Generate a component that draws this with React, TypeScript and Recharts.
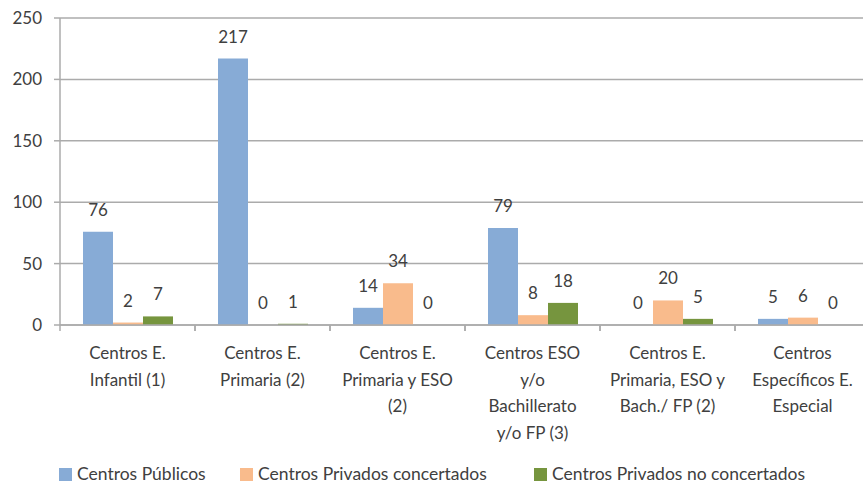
import React from 'react';
import {
  BarChart,
  Bar,
  XAxis,
  YAxis,
  CartesianGrid,
  Legend,
  LabelList,
} from 'recharts';

const categories = [
  'Centros E. Infantil (1)',
  'Centros E. Primaria (2)',
  'Centros E. Primaria y ESO (2)',
  'Centros ESO y/o Bachillerato y/o FP (3)',
  'Centros E. Primaria, ESO y Bach./ FP (2)',
  'Centros Específicos E. Especial',
];

// how each category label wraps under the axis
const categoryLines = [
  ['Centros E.', 'Infantil (1)'],
  ['Centros E.', 'Primaria (2)'],
  ['Centros E.', 'Primaria y ESO', '(2)'],
  ['Centros ESO', 'y/o', 'Bachillerato', 'y/o FP (3)'],
  ['Centros E.', 'Primaria, ESO y', 'Bach./ FP (2)'],
  ['Centros', 'Específicos E.', 'Especial'],
];

const publicos = [76, 217, 14, 79, 0, 5];
const concertados = [2, 0, 34, 8, 20, 6];
const noConcertados = [7, 1, 0, 18, 5, 0];

const yTicks = [0, 50, 100, 150, 200, 250];

const series = [
  { key: 'publicos', name: 'Centros Públicos', color: '#87ABD6' },
  { key: 'concertados', name: 'Centros Privados concertados', color: '#F9BB8C' },
  { key: 'noConcertados', name: 'Centros Privados no concertados', color: '#76953E' },
];

const data = categories.map((name, i) => ({
  name,
  publicos: publicos[i],
  concertados: concertados[i],
  noConcertados: noConcertados[i],
}));

const FONT = 'Lato, "Open Sans", sans-serif';
const TEXT = '#404040';
const GRID = '#ABABAB';
const BAND = 135;

const CategoryTick = (props: any) => {
  const { x, y, index } = props;
  const lines = categoryLines[index] || [];
  return (
    <g>
      <line x1={x - BAND / 2} x2={x - BAND / 2} y1={y} y2={y + 6} stroke={GRID} strokeWidth={1.5} />
      <line x1={x + BAND / 2} x2={x + BAND / 2} y1={y} y2={y + 6} stroke={GRID} strokeWidth={1.5} />
      <text x={x} y={y + 34} textAnchor="middle" fill={TEXT} fontSize={17} fontFamily={FONT}>
        {lines.map((l, i) => (
          <tspan key={i} x={x} dy={i === 0 ? 0 : 26.5}>
            {l}
          </tspan>
        ))}
      </text>
    </g>
  );
};

const legendLeft = [59, 240, 534];

const LegendContent = () => (
  <div style={{ position: 'relative', height: 20, lineHeight: '20px', fontFamily: FONT, fontSize: 17.5, color: TEXT }}>
    {series.map((s, i) => (
      <div
        key={s.key}
        style={{ position: 'absolute', left: legendLeft[i], top: 0, height: 20, display: 'flex', alignItems: 'center', whiteSpace: 'nowrap' }}
      >
        <span style={{ display: 'inline-block', width: 13, height: 13, background: s.color, marginRight: 5 }} />
        <span>{s.name}</span>
      </div>
    ))}
  </div>
);

const App: React.FC = () => {
  return (
    <div style={{ position: 'fixed', left: 0, top: 0, width: 863, height: 484, overflow: 'hidden', background: '#fff' }}>
      <BarChart
        width={880}
        height={484}
        data={data}
        margin={{ top: 18, right: 10, left: 0, bottom: 29 }}
        barGap={0}
      >
        <CartesianGrid vertical={false} stroke={GRID} strokeWidth={1.5} />
        <XAxis
          dataKey="name"
          height={130}
          interval={0}
          tickSize={0}
          tickMargin={0}
          tickLine={false}
          axisLine={{ stroke: GRID, strokeWidth: 1.5 }}
          tick={<CategoryTick />}
        />
        <YAxis
          width={60}
          domain={[0, 250]}
          ticks={yTicks}
          interval={0}
          tickSize={6}
          tickMargin={12}
          tickLine={{ stroke: GRID, strokeWidth: 1.5 }}
          axisLine={{ stroke: GRID, strokeWidth: 1.5 }}
          tick={{ fill: TEXT, fontSize: 17, fontFamily: FONT }}
        />
        <Legend
          layout="horizontal"
          verticalAlign="middle"
          align="center"
          wrapperStyle={{ top: 464, left: 0, width: 863 }}
          content={<LegendContent />}
        />
        {series.map((s) => (
          <Bar
            key={s.key}
            dataKey={s.key}
            name={s.name}
            fill={s.color}
            barSize={30}
            minPointSize={0.01}
            isAnimationActive={false}
          >
            <LabelList
              dataKey={s.key}
              position="top"
              offset={16}
              fill={TEXT}
              fontSize={17}
              fontFamily={FONT}
            />
          </Bar>
        ))}
      </BarChart>
    </div>
  );
};

export default App;
